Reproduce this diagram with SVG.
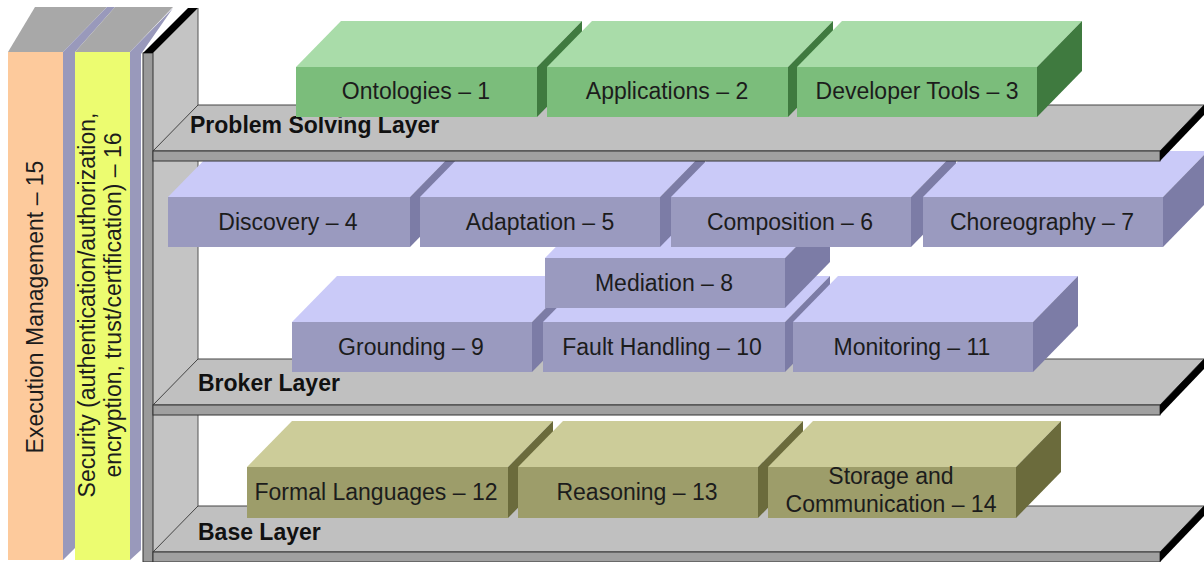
<svg xmlns="http://www.w3.org/2000/svg" width="1204" height="562" viewBox="0 0 1204 562">
<style>
text{font-family:"Liberation Sans",Arial,sans-serif;font-size:23px;fill:#1c1c1c}
.c{text-anchor:middle}
.lay{font-weight:bold;fill:#111}
.gf{fill:#7bbd7b}.gt{fill:#a9dca9}.gs{fill:#3f7a3f}
.pf{fill:#9a9abf}.pt{fill:#cacaf8}.ps{fill:#7c7ca6}
.of{fill:#9d9d6a}.ot{fill:#cccc99}.os{fill:#6b6b3c}
.shtop{fill:#c0c0c0;stroke:#444;stroke-width:1}
.shfront{fill:#a0a0a0;stroke:#333;stroke-width:1}
.edge{fill:#000}
.ptop{fill:#a8a8a8}
.pside{fill:#9999bb}
</style>
<rect width="1204" height="562" fill="#fff"/>

<g id="execution-management">
<polygon class="ptop" points="8,52 35,7 107,7 63,52"/>
<polygon class="pside" points="63,52 107,7 115,7 75,52 75,548 63,560"/>
<rect x="8" y="52" width="55" height="508" fill="#fdca9c"/>
<text class="c" transform="translate(43,307) rotate(-90)">Execution Management – 15</text>
</g>

<g id="security">
<polygon class="ptop" points="75,52 115,7 173,7 130,52"/>
<polygon class="pside" points="130,52 173,8 141,54 141,550 130,560"/>
<rect x="75" y="52" width="55" height="508" fill="#ecfc70"/>
<text class="c" transform="translate(95,305) rotate(-90)">Security (authentication/authorization,</text>
<text class="c" transform="translate(121,305) rotate(-90)">encryption, trust/certification) – 16</text>
</g>

<g id="shelf-frame">
<polygon points="153,53 198,8 198,518 153,562" fill="#c4c4c4"/>
<line x1="198" y1="8" x2="198" y2="506" stroke="#555" stroke-width="1"/>
<rect x="143" y="53" width="10" height="509" fill="#9a9a9a" stroke="#333" stroke-width="1"/>
<polygon class="edge" points="143,53 153,53 198,8 188,8"/>
</g>

<g id="base-layer">
<polygon class="shtop" points="153,552 198,506 1204,506 1160,552"/>
<rect class="shfront" x="153" y="552" width="1007" height="10"/>
<polygon class="edge" points="1160,552 1204,506 1204,516 1160,562"/>
<text class="lay" x="198" y="540">Base Layer</text>
</g>

<g id="broker-layer">
<polygon class="shtop" points="153,405 198,359 1204,359 1160,405"/>
<rect class="shfront" x="153" y="405" width="1007" height="10"/>
<polygon class="edge" points="1160,405 1204,359 1204,369 1160,415"/>
<text class="lay" x="198" y="391">Broker Layer</text>
</g>

<g id="problem-solving-layer-top">
<polygon class="shtop" points="153,151 198,105 1204,105 1160,151"/>
<text class="lay" x="190" y="133">Problem Solving Layer</text>
</g>

<g id="formal-languages">
<polygon class="ot" points="247,467 292,421 553,421 508,467"/>
<polygon class="os" points="508,467 553,421 553,472 508,518"/>
<rect class="of" x="247" y="467" width="261" height="51"/>
<text class="c" x="376" y="500">Formal Languages – 12</text>
</g>
<g id="reasoning">
<polygon class="ot" points="518,467 563,421 803,421 758,467"/>
<polygon class="os" points="758,467 803,421 803,472 758,518"/>
<rect class="of" x="518" y="467" width="240" height="51"/>
<text class="c" x="637" y="500">Reasoning – 13</text>
</g>
<g id="storage-communication">
<polygon class="ot" points="768,467 813,421 1061,421 1016,467"/>
<polygon class="os" points="1016,467 1061,421 1061,472 1016,518"/>
<rect class="of" x="768" y="467" width="248" height="51"/>
<text class="c" x="891" y="484">Storage and</text>
<text class="c" x="891" y="512">Communication – 14</text>
</g>

<g id="ontologies">
<polygon class="gt" points="296,67 341,21 582,21 537,67"/>
<polygon class="gs" points="537,67 582,21 582,71 537,117"/>
<rect class="gf" x="296" y="67" width="241" height="50"/>
<text class="c" x="416" y="99">Ontologies – 1</text>
</g>
<g id="applications">
<polygon class="gt" points="547,67 592,21 833,21 788,67"/>
<polygon class="gs" points="788,67 833,21 833,71 788,117"/>
<rect class="gf" x="547" y="67" width="241" height="50"/>
<text class="c" x="667" y="99">Applications – 2</text>
</g>
<g id="developer-tools">
<polygon class="gt" points="797,67 842,21 1082,21 1037,67"/>
<polygon class="gs" points="1037,67 1082,21 1082,71 1037,117"/>
<rect class="gf" x="797" y="67" width="240" height="50"/>
<text class="c" x="917" y="99">Developer Tools – 3</text>
</g>

<g id="grounding">
<polygon class="pt" points="292,322 337,276 577,276 532,322"/>
<polygon class="ps" points="532,322 577,276 577,326 532,372"/>
<rect class="pf" x="292" y="322" width="240" height="50"/>
<text class="c" x="411" y="355">Grounding – 9</text>
</g>
<g id="fault-handling">
<polygon class="pt" points="543,322 588,276 830,276 785,322"/>
<polygon class="ps" points="785,322 830,276 830,326 785,372"/>
<rect class="pf" x="543" y="322" width="242" height="50"/>
<text class="c" x="662" y="355">Fault Handling – 10</text>
</g>
<g id="monitoring">
<polygon class="pt" points="793,322 838,276 1078,276 1033,322"/>
<polygon class="ps" points="1033,322 1078,276 1078,326 1033,372"/>
<rect class="pf" x="793" y="322" width="240" height="50"/>
<text class="c" x="912" y="355">Monitoring – 11</text>
</g>
<g id="mediation">
<polygon class="pt" points="545,258 590,212 830,212 785,258"/>
<polygon class="ps" points="785,258 830,212 830,262 785,308"/>
<rect class="pf" x="545" y="258" width="240" height="50"/>
<text class="c" x="664" y="291">Mediation – 8</text>
</g>

<g id="discovery">
<polygon class="pt" points="168,197 213,151 455,151 410,197"/>
<polygon class="ps" points="410,197 455,151 455,201 410,247"/>
<rect class="pf" x="168" y="197" width="242" height="50"/>
<text class="c" x="288" y="230">Discovery – 4</text>
</g>
<g id="adaptation">
<polygon class="pt" points="420,197 465,151 705,151 660,197"/>
<polygon class="ps" points="660,197 705,151 705,201 660,247"/>
<rect class="pf" x="420" y="197" width="240" height="50"/>
<text class="c" x="540" y="230">Adaptation – 5</text>
</g>
<g id="composition">
<polygon class="pt" points="671,197 716,151 956,151 911,197"/>
<polygon class="ps" points="911,197 956,151 956,201 911,247"/>
<rect class="pf" x="671" y="197" width="240" height="50"/>
<text class="c" x="790" y="230">Composition – 6</text>
</g>
<g id="choreography">
<polygon class="pt" points="923,197 968,151 1208,151 1163,197"/>
<polygon class="ps" points="1163,197 1208,151 1208,201 1163,247"/>
<rect class="pf" x="923" y="197" width="240" height="50"/>
<text class="c" x="1042" y="230">Choreography – 7</text>
</g>

<g id="problem-solving-layer-front">
<rect class="shfront" x="153" y="151" width="1007" height="10"/>
<polygon class="edge" points="1160,151 1204,105 1204,115 1160,161"/>
</g>

<g id="connectors"/>
</svg>
